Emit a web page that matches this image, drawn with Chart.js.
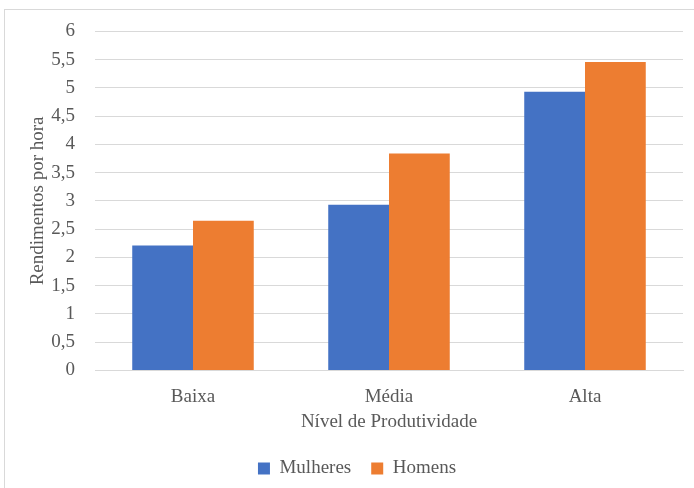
<!DOCTYPE html>
<html>
<head>
<meta charset="utf-8">
<script src="https://cdn.jsdelivr.net/npm/chart.js@4"></script>
<style>
  html, body { margin: 0; padding: 0; background: #fff; }
  #frame { position: absolute; left: 4px; top: 9px; width: 700px; height: 490px; border: 1px solid #d9d9d9; box-sizing: border-box; }
  #wrap { position: absolute; left: 0; top: 0; width: 694px; height: 488px; }
</style>
</head>
<body>
<div id="frame"></div>
<div id="wrap"><canvas id="chart1"></canvas></div>
<script>
// Rendimentos por hora por nível de produtividade
const niveis = ['Baixa', 'Média', 'Alta'];
const mulheres = [2.21, 2.93, 4.93];
const homens = [2.65, 3.84, 5.46];

const serif = "'Liberation Serif', 'Times New Roman', serif";
const txt = "#595959";
Chart.defaults.font.family = serif;

// legend sits a bit right of the canvas centre in the original
const shiftLegend = {
    id: 'shiftLegend',
    afterLayout(chart) {
        chart.legend.left += 11;
        chart.legend.right += 11;
    }
};

let ctx1 = document.getElementById("chart1").getContext("2d");
let chart1 = new Chart(ctx1, {
    type: "bar",
    data: {
        labels: niveis,
        datasets: [
            {
                label: "Mulheres",
                backgroundColor: "#4472c4",
                data: mulheres,
                categoryPercentage: 0.62,
                barPercentage: 1.0
            },
            {
                label: "Homens",
                backgroundColor: "#ed7d31",
                data: homens,
                categoryPercentage: 0.62,
                barPercentage: 1.0
            }
        ]
    },
    plugins: [shiftLegend],
    options: {
        responsive: true,
        maintainAspectRatio: false,
        animation: false,
        layout: {
            padding: { left: 9, right: 11, top: 15, bottom: 0 }
        },
        plugins: {
            legend: {
                position: "bottom",
                labels: {
                    font: { family: serif, size: 19 },
                    color: txt,
                    boxWidth: 12,
                    boxHeight: 12,
                    padding: 20
                }
            },
            tooltip: { enabled: false }
        },
        scales: {
            x: {
                grid: { display: false },
                border: { display: true, color: "#d9d9d9" },
                ticks: { font: { family: serif, size: 19 }, color: txt, padding: 7 },
                title: {
                    display: true,
                    text: "Nível de Produtividade",
                    font: { family: serif, size: 19 },
                    color: txt,
                    padding: { top: -5, bottom: 6 }
                }
            },
            y: {
                min: 0,
                max: 6,
                afterFit: (s) => { s.width = 86; },
                grid: { color: "#d9d9d9", drawTicks: false },
                border: { display: false },
                ticks: {
                    stepSize: 0.5,
                    font: { family: serif, size: 19 },
                    color: txt,
                    padding: 20,
                    callback: (v) => String(v).replace('.', ',')
                },
                title: {
                    display: true,
                    text: "Rendimentos por hora",
                    font: { family: serif, size: 19 },
                    color: txt,
                    padding: { top: 18, bottom: 0 }
                }
            }
        }
    }
});
</script>
</body>
</html>
